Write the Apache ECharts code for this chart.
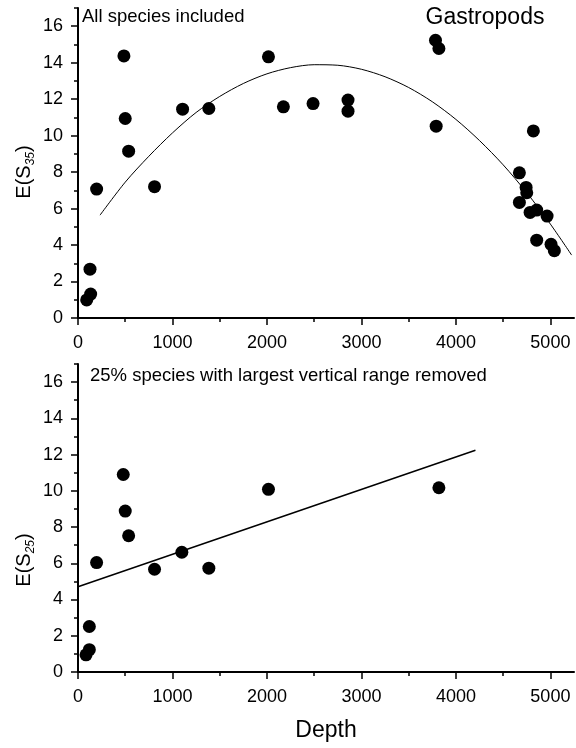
<!DOCTYPE html>
<html>
<head>
<meta charset="utf-8">
<script src="https://cdn.jsdelivr.net/npm/echarts@6/dist/echarts.min.js"></script>
<style>html,body{margin:0;padding:0;background:#fff}#c{width:576px;height:748px}</style>
</head>
<body>
<div id="c"></div>
<script>
// ---- Data ----
// Top panel: all species included, E(S35)
var topDepth = [92, 134, 127, 197, 486, 500, 536, 810, 1107, 1385, 2016, 2174, 2488, 2858, 2858, 3784, 3820, 3791, 4820, 4672, 4743, 4750, 4672, 4785, 4855, 4965, 4855, 5007, 5042];
var topES35  = [0.99, 1.31, 2.68, 7.07, 14.37, 10.94, 9.15, 7.2, 11.45, 11.49, 14.32, 11.58, 11.76, 11.95, 11.34, 15.23, 14.78, 10.52, 10.26, 7.96, 7.16, 6.87, 6.34, 5.79, 5.92, 5.59, 4.27, 4.04, 3.69];
// Fitted quadratic curve
var curveDepth = [233, 500, 750, 1000, 1250, 1500, 1750, 2000, 2250, 2500, 2750, 3000, 3250, 3500, 3750, 4000, 4250, 4500, 4750, 5000, 5225];
var curveES35  = [5.64, 7.45, 8.87, 10.15, 11.27, 12.15, 12.86, 13.39, 13.73, 13.89, 13.86, 13.64, 13.23, 12.64, 11.86, 10.89, 9.73, 8.4, 6.87, 5.15, 3.45];
// Bottom panel: 25% species with largest vertical range removed, E(S25)
var botDepth = [85, 120, 120, 197, 479, 500, 536, 810, 1099, 1385, 2016, 3820];
var botES25  = [0.95, 1.23, 2.51, 6.04, 10.9, 8.88, 7.52, 5.67, 6.61, 5.73, 10.08, 10.17];
// Fitted straight line (end points)
var lineDepth = [0, 4207];
var lineES25  = [4.71, 12.24];
// Axis ticks
var xMajor = [0, 1000, 2000, 3000, 4000, 5000];
var xMinor = [500, 1500, 2500, 3500, 4500];
var yMajor = [0, 2, 4, 6, 8, 10, 12, 14, 16];
var yMinor = [1, 3, 5, 7, 9, 11, 13, 15, 17];
var panelLabels = ['All species included', '25% species with largest vertical range removed'];

function pairs(xs, ys) { return xs.map(function (x, i) { return [x, ys[i]]; }); }

var FONT = 'Liberation Sans';
var chart = echarts.init(document.getElementById('c'), null, {renderer: 'canvas'});
function plain(v) { return String(v); }

function xAxisPair(gi) {
  return [
    {gridIndex: gi, type: 'value', min: 0, max: 5250, position: 'bottom',
     axisLine: {show: true, onZero: false, lineStyle: {color: '#000', width: 2}},
     axisTick: {show: true, length: 7, lineStyle: {color: '#000', width: 1.5}, customValues: xMajor},
     axisLabel: {show: true, margin: 16, fontSize: 18, fontFamily: FONT, color: '#000', customValues: xMajor, formatter: plain},
     splitLine: {show: false}},
    {gridIndex: gi, type: 'value', min: 0, max: 5250, position: 'bottom',
     axisLine: {show: false},
     axisTick: {show: true, length: 4, lineStyle: {color: '#000', width: 1.5}, customValues: xMinor},
     axisLabel: {show: false}, splitLine: {show: false}}
  ];
}
function yAxisPair(gi) {
  return [
    {gridIndex: gi, type: 'value', min: 0, max: 17, position: 'left',
     axisLine: {show: true, onZero: false, lineStyle: {color: '#000', width: 2}},
     axisTick: {show: true, length: 7, lineStyle: {color: '#000', width: 1.5}, customValues: yMajor},
     axisLabel: {show: true, margin: 15, fontSize: 18, fontFamily: FONT, color: '#000', customValues: yMajor, formatter: plain},
     splitLine: {show: false}},
    {gridIndex: gi, type: 'value', min: 0, max: 17, position: 'left',
     axisLine: {show: false},
     axisTick: {show: true, length: 4, lineStyle: {color: '#000', width: 1.5}, customValues: yMinor},
     axisLabel: {show: false}, splitLine: {show: false}}
  ];
}

var ylabelRich = {
  a: {fontSize: 20, fontFamily: FONT, color: '#000', lineHeight: 26, verticalAlign: 'middle'},
  b: {fontSize: 12, fontFamily: FONT, fontStyle: 'italic', color: '#000', lineHeight: 12, verticalAlign: 'bottom'}
};

var option = {
  animation: false,
  backgroundColor: '#fff',
  grid: [
    {left: 78, top: 8, width: 496, height: 310},
    {left: 78, top: 364, width: 496, height: 308}
  ],
  xAxis: xAxisPair(0).concat(xAxisPair(1)),
  yAxis: yAxisPair(0).concat(yAxisPair(1)),
  series: [
    {type: 'scatter', xAxisIndex: 0, yAxisIndex: 0, data: pairs(topDepth, topES35),
     symbol: 'circle', symbolSize: 13, itemStyle: {color: '#000', opacity: 1}},
    {type: 'line', xAxisIndex: 0, yAxisIndex: 0, data: pairs(curveDepth, curveES35),
     smooth: 0.3, showSymbol: false, lineStyle: {color: '#000', width: 1}},
    {type: 'scatter', xAxisIndex: 2, yAxisIndex: 2, data: pairs(botDepth, botES25),
     symbol: 'circle', symbolSize: 13, itemStyle: {color: '#000', opacity: 1}},
    {type: 'line', xAxisIndex: 2, yAxisIndex: 2, data: pairs(lineDepth, lineES25),
     showSymbol: false, lineStyle: {color: '#000', width: 1.5}}
  ],
  graphic: [
    {type: 'text', left: 82, top: 7, style: {text: panelLabels[0], fontSize: 18.5, fontFamily: FONT, fill: '#000'}},
    {type: 'text', x: 485, y: 18, style: {text: 'Gastropods', fontSize: 23, fontFamily: FONT, fill: '#000', align: 'center', verticalAlign: 'middle'}},
    {type: 'text', left: 90, top: 366, style: {text: panelLabels[1], fontSize: 18.5, fontFamily: FONT, fill: '#000'}},
    {type: 'text', x: 326, y: 731, style: {text: 'Depth', fontSize: 23, fontFamily: FONT, fill: '#000', align: 'center', verticalAlign: 'middle'}},
    {type: 'text', x: 24, y: 172, rotation: Math.PI / 2,
     style: {text: '{a|E(S}{b|35}{a|)}', rich: ylabelRich, align: 'center', verticalAlign: 'middle'}},
    {type: 'text', x: 24, y: 560, rotation: Math.PI / 2,
     style: {text: '{a|E(S}{b|25}{a|)}', rich: ylabelRich, align: 'center', verticalAlign: 'middle'}}
  ]
};
chart.setOption(option);
</script>
</body>
</html>
